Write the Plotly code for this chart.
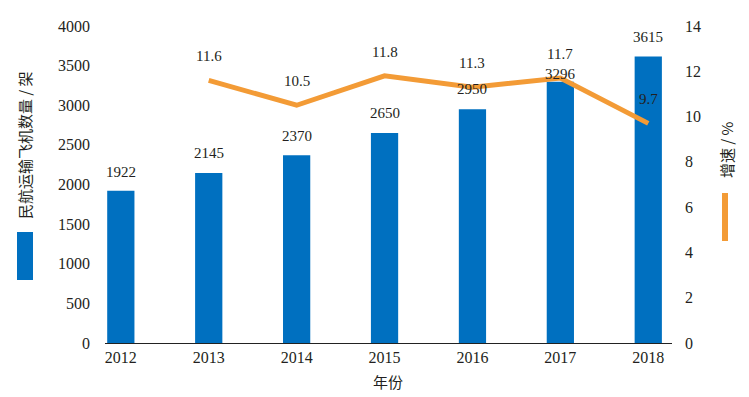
import plotly.graph_objects as go

years = ["2012", "2013", "2014", "2015", "2016", "2017", "2018"]
aircraft = [1922, 2145, 2370, 2650, 2950, 3296, 3615]
growth = [None, 11.6, 10.5, 11.8, 11.3, 11.7, 9.7]

# vertical offsets (px) of the bar value labels above the bar tops
bar_label_shift = [19, 20, 19, 20, 20, 8, 20]

W, H = 749, 397
ML, MR, MT, MB = 105, 77, 26, 54
PW = W - ML - MR
PH = H - MT - MB


def px(x):
    return (x - ML) / PW


def py(y):
    return (H - MB - y) / PH


SERIF = "Liberation Serif"
CJK = "Noto Sans CJK SC"
BLUE = "#0070C0"
ORANGE = "#F39B36"
TXT = "#231F20"

fig = go.Figure()
fig.add_trace(go.Bar(x=years, y=aircraft, marker=dict(color=BLUE, line=dict(width=0)),
                     width=0.31, yaxis="y", showlegend=False, hoverinfo="skip"))
fig.add_trace(go.Scatter(x=years, y=growth, mode="lines", yaxis="y2",
                         line=dict(color=ORANGE, width=5), showlegend=False,
                         connectgaps=False, hoverinfo="skip"))

ann = []
for i, v in enumerate(aircraft):
    ann.append(dict(x=i, y=v, xref="x", yref="y", text=str(v), showarrow=False,
                    yshift=bar_label_shift[i], font=dict(family=SERIF, size=15, color=TXT)))
for i, v in enumerate(growth):
    if v is None:
        continue
    ann.append(dict(x=i, y=v, xref="x", yref="y2", text=f"{v:.1f}", showarrow=False,
                    yshift=24, font=dict(family=SERIF, size=15, color=TXT)))

# axis titles with legend swatches
ann.append(dict(x=px(24), y=py(145), xref="paper", yref="paper", text="民航运输飞机数量 / 架",
                textangle=-90, showarrow=False, xanchor="center", yanchor="middle",
                font=dict(family=CJK, size=15, color=TXT)))
ann.append(dict(x=px(726), y=py(150), xref="paper", yref="paper", text="增速 / %",
                textangle=-90, showarrow=False, xanchor="center", yanchor="middle",
                font=dict(family=CJK, size=15, color=TXT)))
ann.append(dict(x=px(388), y=py(382), xref="paper", yref="paper", text="年份",
                showarrow=False, xanchor="center", yanchor="middle",
                font=dict(family=CJK, size=15, color=TXT)))

shapes = [
    dict(type="rect", xref="paper", yref="paper", x0=px(17), x1=px(33), y0=py(280), y1=py(232),
         fillcolor=BLUE, line=dict(width=0)),
    dict(type="rect", xref="paper", yref="paper", x0=px(722), x1=px(728), y0=py(241), y1=py(193),
         fillcolor=ORANGE, line=dict(width=0)),
]

fig.update_layout(
    width=W, height=H,
    margin=dict(l=ML, r=MR, t=MT, b=MB, autoexpand=False),
    plot_bgcolor="white", paper_bgcolor="white",
    annotations=ann, shapes=shapes,
    xaxis=dict(type="category", range=[-0.18, 6.27], showgrid=False, showline=True,
               linecolor="#222", linewidth=1, ticks="", zeroline=False, automargin=False,
               tickfont=dict(family=SERIF, size=16, color=TXT)),
    yaxis=dict(range=[0, 4000], dtick=500, showgrid=False, showline=False, zeroline=False,
               ticks="", ticklabelstandoff=14, automargin=False,
               tickfont=dict(family=SERIF, size=16, color=TXT)),
    yaxis2=dict(range=[0, 14], dtick=2, overlaying="y", side="right", showgrid=False,
                showline=False, zeroline=False, ticks="", ticklabelstandoff=12, automargin=False,
                tickfont=dict(family=SERIF, size=16, color=TXT)),
    bargap=0.69,
)

fig.write_html("out.html", config={"displayModeBar": False},
               post_script="document.body.style.margin='0';document.body.style.overflow='hidden';")
